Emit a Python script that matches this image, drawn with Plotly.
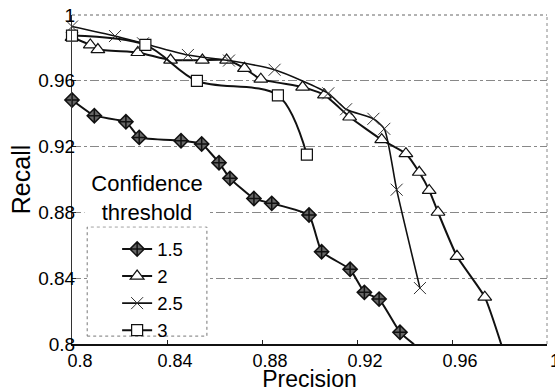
import plotly.graph_objects as go

# ---- data ----
p15 = [0.800, 0.8094, 0.8227, 0.8283, 0.8459, 0.8546, 0.8619, 0.8665, 0.8766, 0.8841,
       0.8998, 0.9051, 0.9171, 0.9231, 0.9293, 0.9381, 0.9440]
r15 = [0.9483, 0.9388, 0.9351, 0.9256, 0.9236, 0.9216, 0.9102, 0.9007, 0.8884, 0.8855,
       0.8784, 0.8561, 0.8454, 0.8314, 0.8273, 0.8071, 0.7998]

p20 = [0.800, 0.8077, 0.8109, 0.8277, 0.8415, 0.8549, 0.8651, 0.8726, 0.8795, 0.8971,
       0.9063, 0.9169, 0.9304, 0.9406, 0.9462, 0.9504, 0.9541, 0.9621, 0.9738, 0.9808]
r20 = [0.9864, 0.9818, 0.9790, 0.9772, 0.9726, 0.9726, 0.9726, 0.9676, 0.9610, 0.9562,
       0.9514, 0.9380, 0.9242, 0.9157, 0.9044, 0.8934, 0.8801, 0.8533, 0.8285, 0.7995]

p25 = [0.800, 0.8181, 0.8299, 0.8488, 0.8661, 0.8853, 0.9079, 0.9154, 0.9269, 0.9315,
       0.9367, 0.9465]
r25 = [0.9930, 0.9872, 0.9828, 0.9757, 0.9723, 0.9667, 0.9524, 0.9427, 0.9369, 0.9308,
       0.8938, 0.8340]

p30 = [0.800, 0.8309, 0.8526, 0.8867, 0.8989]
r30 = [0.9875, 0.9818, 0.9599, 0.9512, 0.9151]

names = ["1.5", "2", "2.5", "3"]
x_ticks = [0.8, 0.84, 0.88, 0.92, 0.96, 1.0]
x_tick_text = ["0.8", "0.84", "0.88", "0.92", "0.96", "1"]
y_ticks = [0.8, 0.84, 0.88, 0.92, 0.96, 1.0]
y_tick_text = ["0.8", "0.84", "0.88", "0.92", "0.96", "1"]

FONT = "Liberation Sans, Arial, sans-serif"

fig = go.Figure()
fig.add_trace(go.Scatter(
    x=p15, y=r15, name=names[0], mode="lines+markers",
    line=dict(color="#111", width=2, shape="spline", smoothing=0.4),
    marker=dict(symbol="diamond-cross", size=11, color="#666",
                line=dict(color="#111", width=1.5)),
    cliponaxis=False))
fig.add_trace(go.Scatter(
    x=p20, y=r20, name=names[1], mode="lines+markers",
    line=dict(color="#111", width=2, shape="spline", smoothing=0.5),
    marker=dict(symbol="triangle-up", size=12, color="white",
                line=dict(color="#111", width=1.2)),
    cliponaxis=False))
fig.add_trace(go.Scatter(
    x=p25, y=r25, name=names[2], mode="lines+markers",
    line=dict(color="#111", width=1.6, shape="spline", smoothing=0.6),
    marker=dict(symbol="x-thin", size=12, color="#333",
                line=dict(color="#333", width=1)),
    cliponaxis=False))
fig.add_trace(go.Scatter(
    x=p30, y=r30, name=names[3], mode="lines+markers",
    line=dict(color="#111", width=2, shape="spline", smoothing=0.9),
    marker=dict(symbol="square", size=11, color="white",
                line=dict(color="#111", width=1.2)),
    cliponaxis=False))

# legend background box (dotted) and title annotation
fig.add_shape(type="rect", xref="paper", yref="paper",
              x0=0.032, x1=0.284, y0=0.024, y1=0.356,
              fillcolor="white", line=dict(color="#777", width=1, dash="dot"),
              layer="above")
fig.add_annotation(xref="paper", yref="paper", x=0.158, y=0.444,
                   xanchor="center", yanchor="middle",
                   text="Confidence<br>threshold", showarrow=False,
                   font=dict(family=FONT, size=22, color="black"),
                   bgcolor="white", width=122, align="center")

fig.update_layout(
    width=555, height=392,
    margin=dict(l=72, r=8, t=15, b=48),
    paper_bgcolor="white", plot_bgcolor="white",
    font=dict(family=FONT, color="black"),
    showlegend=True,
    legend=dict(x=0.095, y=0.345, xanchor="left", yanchor="top",
                bgcolor="rgba(0,0,0,0)", borderwidth=0,
                font=dict(family=FONT, size=18.5, color="black"),
                tracegroupgap=0),
)
fig.update_xaxes(
    range=[0.8, 1.0], tickvals=x_ticks, ticktext=x_tick_text,
    showgrid=False, zeroline=False, automargin=False,
    ticks="inside", ticklen=4, tickcolor="#222",
    showline=True, linecolor="#111", linewidth=2, mirror=False,
    tickfont=dict(family=FONT, size=18, color="black"),
    ticklabelshift=8, ticklabelstandoff=-1, ticklabeloverflow="allow",
    title=dict(text="Precision", font=dict(family=FONT, size=23, color="black"),
               standoff=0),
)
fig.update_yaxes(
    range=[0.8, 1.0], tickvals=y_ticks, ticktext=y_tick_text,
    showgrid=True, gridcolor="#888", griddash="dashdot", gridwidth=1,
    zeroline=False, automargin=False,
    ticks="inside", ticklen=4, tickcolor="#222",
    showline=True, linecolor="#333", linewidth=1, mirror=False,
    tickfont=dict(family=FONT, size=19, color="black"),
    ticklabelstandoff=-8,
    title=dict(text="Recall", font=dict(family=FONT, size=25, color="black"),
               standoff=0),
)
# light frame on top / right
fig.add_shape(type="line", xref="paper", yref="paper", x0=0, x1=1, y0=1, y1=1,
              line=dict(color="#666", width=1, dash="dot"), layer="below")
fig.add_shape(type="line", xref="paper", yref="paper", x0=1, x1=1, y0=0, y1=1,
              line=dict(color="#888", width=1, dash="dot"), layer="below")

fig.write_html("out.html")
